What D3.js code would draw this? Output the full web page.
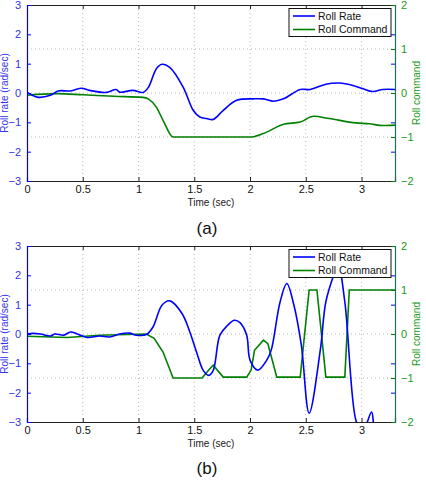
<!DOCTYPE html>
<html><head><meta charset="utf-8">
<script src="https://cdn.jsdelivr.net/npm/d3@7"></script>
<style>body{margin:0;background:#fff}svg{display:block}text{font-family:"Liberation Sans",Arial,sans-serif}</style>
</head><body><svg id="c" width="426" height="485"></svg>
<script>
// ---- data ----
const xTicks = [0, 0.5, 1, 1.5, 2, 2.5, 3];
const leftTicks = [-3, -2, -1, 0, 1, 2, 3];
const rightTicks = [-2, -1, 0, 1, 2];
const seriesNames = ["Roll Rate", "Roll Command"];
const panelLabels = ["(a)", "(b)"];

const rateA_t = [0, 0.09, 0.21, 0.28, 0.39, 0.49, 0.56, 0.71, 0.80, 0.83, 0.95, 1.04, 1.09, 1.16, 1.21, 1.28, 1.40, 1.49, 1.55, 1.61, 1.67, 1.76, 1.88, 2.03, 2.12, 2.21, 2.30, 2.45, 2.54, 2.68, 2.80, 2.93, 3.01, 3.10, 3.19, 3.30];
const rateA_v = [0.03, -0.14, -0.08, 0.07, 0.07, 0.16, 0.09, 0.02, 0.12, 0.03, 0.09, 0.02, 0.2, 0.83, 0.98, 0.87, 0.2, -0.59, -0.82, -0.87, -0.9, -0.59, -0.25, -0.2, -0.2, -0.28, -0.2, 0.12, 0.12, 0.3, 0.34, 0.25, 0.15, 0.05, 0.12, 0.12];
const cmdA_t = [0, 0.27, 0.5, 0.78, 1.04, 1.09, 1.16, 1.22, 1.31, 2.0, 2.12, 2.30, 2.45, 2.57, 2.71, 2.95, 3.07, 3.19, 3.30];
const cmdA_v = [-0.05, -0.015, -0.04, -0.075, -0.1, -0.14, -0.32, -0.62, -1.0, -1.0, -0.92, -0.71, -0.66, -0.53, -0.58, -0.68, -0.70, -0.74, -0.73];

const rateB_t = [0, 0.05, 0.12, 0.21, 0.25, 0.33, 0.39, 0.45, 0.54, 0.65, 0.74, 0.83, 0.92, 0.98, 1.07, 1.13, 1.21, 1.28, 1.39, 1.46, 1.52, 1.58, 1.63, 1.67, 1.73, 1.80, 1.86, 1.91, 1.97, 2.0, 2.07, 2.15, 2.19, 2.27, 2.33, 2.39, 2.46, 2.53, 2.63, 2.68, 2.76, 2.79, 2.85, 2.95, 3.0, 3.04, 3.09, 3.12, 3.20, 3.30];
const rateB_v = [0.0, 0.02, 0.0, -0.07, 0.0, -0.04, 0.07, 0.0, -0.12, -0.07, -0.1, 0.0, 0.03, -0.04, -0.02, 0.24, 0.98, 1.13, 0.70, 0.07, -0.61, -1.24, -1.41, -1.24, -0.04, 0.3, 0.47, 0.39, -0.04, -0.89, -1.23, -0.89, -0.55, 1.1, 1.72, 1.04, -0.38, -2.7, -0.55, 1.1, 2.12, 2.4, 1.1, -2.95, -3.3, -3.1, -2.66, -3.3, -3.8, -4.0];
const cmdB_t = [0, 0.36, 0.65, 1.07, 1.14, 1.22, 1.31, 1.57, 1.63, 1.67, 1.76, 1.97, 2.01, 2.04, 2.12, 2.16, 2.24, 2.45, 2.53, 2.60, 2.68, 2.85, 2.89, 3.30];
const cmdB_v = [-0.05, -0.08, -0.03, 0.0, -0.1, -0.41, -1.0, -1.0, -0.82, -0.71, -0.98, -0.98, -0.82, -0.37, -0.14, -0.22, -0.98, -0.98, 1.0, 1.0, -0.98, -0.98, 1.0, 1.0];

const panels = [
  {top: 5, rate: [rateA_t, rateA_v], cmd: [cmdA_t, cmdA_v], cmdCurve: d3.curveMonotoneX, label: panelLabels[0], labY: 228},
  {top: 246, rate: [rateB_t, rateB_v], cmd: [cmdB_t, cmdB_v], cmdCurve: d3.curveLinear, label: panelLabels[1], labY: 468}
];

const svg = d3.select("#c");
const L = 27, R = 395, H = 176;
const BLUE = "#0000ff", GREEN = "#008000";
const x = d3.scaleLinear().domain([0, 3.3]).range([L, R]);

panels.forEach((p, i) => {
  const yL = d3.scaleLinear().domain([-3, 3]).range([p.top + H, p.top]);
  const yR = d3.scaleLinear().domain([-2, 2]).range([p.top + H, p.top]);
  const g = svg.append("g");
  const cid = "clip" + i;
  g.append("clipPath").attr("id", cid).append("rect")
    .attr("x", L).attr("y", p.top).attr("width", R - L).attr("height", H);

  // grid
  g.append("g").selectAll("line").data(xTicks.filter(d => d > 0)).join("line")
    .attr("x1", d => x(d)).attr("x2", d => x(d)).attr("y1", p.top).attr("y2", p.top + H)
    .attr("stroke", "#b8b8b8").attr("stroke-width", 1).attr("stroke-dasharray", "1,3");
  g.append("g").selectAll("line").data([-1, 0, 1]).join("line")
    .attr("x1", L).attr("x2", R).attr("y1", d => yR(d)).attr("y2", d => yR(d))
    .attr("stroke", "#b8b8b8").attr("stroke-width", 1).attr("stroke-dasharray", "1,3");

  // lines
  const mk = (arr, ys, curve) => d3.line().curve(curve).x((d, k) => x(arr[0][k])).y((d, k) => ys(arr[1][k]))(arr[0]);
  g.append("path").attr("d", mk(p.cmd, yR, p.cmdCurve)).attr("fill", "none").attr("stroke", GREEN)
    .attr("stroke-width", 1.6).attr("clip-path", `url(#${cid})`);
  g.append("path").attr("d", mk(p.rate, yL, d3.curveCatmullRom.alpha(0.5))).attr("fill", "none").attr("stroke", BLUE)
    .attr("stroke-width", 1.6).attr("clip-path", `url(#${cid})`);

  // frame: top
  g.append("line").attr("x1", L).attr("x2", R).attr("y1", p.top + 0.5).attr("y2", p.top + 0.5).attr("stroke", "#222").attr("stroke-width", 1.2);
  // bottom axis
  const xa = g.append("g").attr("transform", `translate(0,${p.top + H})`)
    .call(d3.axisBottom(x).tickValues(xTicks).tickSize(-4).tickPadding(4).tickFormat(d3.format("")));
  xa.select(".domain").attr("stroke", "#222").attr("stroke-width", 1.2);
  xa.selectAll(".tick line").attr("stroke", "#222");
  xa.selectAll("text").attr("fill", "#111").attr("font-size", 11).attr("font-family", "Liberation Sans, Arial, sans-serif");
  // top ticks
  g.append("g").attr("transform", `translate(0,${p.top})`)
    .call(d3.axisTop(x).tickValues(xTicks).tickSize(-4).tickFormat(""))
    .call(s => s.select(".domain").remove())
    .selectAll(".tick line").attr("stroke", "#222");

  // left axis
  const la = g.append("g").attr("transform", `translate(${L},0)`)
    .call(d3.axisLeft(yL).tickValues(leftTicks).tickSize(-4).tickPadding(6).tickFormat(d => d < 0 ? "\u2212" + Math.abs(d) : d));
  la.select(".domain").attr("stroke", BLUE).attr("stroke-width", 1.2);
  la.selectAll(".tick line").attr("stroke", BLUE);
  la.selectAll("text").attr("fill", "#3333ee").attr("font-size", 11).attr("font-family", "Liberation Sans, Arial, sans-serif");
  // blue ticks mirrored on right
  g.append("g").attr("transform", `translate(${R},0)`)
    .call(d3.axisRight(yL).tickValues(leftTicks.slice(1, -1)).tickSize(-4).tickFormat(""))
    .call(s => s.select(".domain").remove())
    .selectAll(".tick line").attr("stroke", BLUE);

  // right axis
  const ra = g.append("g").attr("transform", `translate(${R},0)`)
    .call(d3.axisRight(yR).tickValues(rightTicks).tickSize(-4).tickPadding(6).tickFormat(d => d < 0 ? "\u2212" + Math.abs(d) : d));
  ra.select(".domain").attr("stroke", "#1a7060").attr("stroke-width", 1.2);
  ra.selectAll(".tick line").attr("stroke", GREEN);
  ra.selectAll("text").attr("fill", "#229922").attr("font-size", 11).attr("font-family", "Liberation Sans, Arial, sans-serif");

  // axis titles
  const cy = p.top + H / 2;
  g.append("text").attr("transform", `translate(8,${cy}) rotate(-90)`).attr("text-anchor", "middle")
    .attr("fill", "#3333ee").attr("font-size", 10).text("Roll rate (rad/sec)");
  g.append("text").attr("transform", `translate(420,${cy}) rotate(-90)`).attr("text-anchor", "middle")
    .attr("fill", "#229922").attr("font-size", 10).text("Roll command");
  g.append("text").attr("x", 211).attr("y", p.top + H + 25).attr("text-anchor", "middle")
    .attr("fill", "#222").attr("font-size", 10).text("Time (sec)");
  g.append("text").attr("x", 207).attr("y", p.labY + 6).attr("text-anchor", "middle")
    .attr("fill", "#111").attr("font-size", 17).attr("font-family", "DejaVu Serif, Liberation Serif, serif").text(p.label);

  // legend
  const lg = g.append("g").attr("transform", `translate(289,${p.top + 3.5})`);
  lg.append("rect").attr("width", 102).attr("height", 28).attr("fill", "#fff").attr("stroke", "#111").attr("stroke-width", 1);
  [BLUE, GREEN].forEach((c, k) => {
    const yy = 7.5 + k * 13.5;
    lg.append("line").attr("x1", 4).attr("x2", 26).attr("y1", yy).attr("y2", yy).attr("stroke", c).attr("stroke-width", 1.6);
    lg.append("text").attr("x", 29).attr("y", yy + 3.8).attr("font-size", 10.5).attr("fill", "#111").text(seriesNames[k]);
  });
});
</script></body></html>
